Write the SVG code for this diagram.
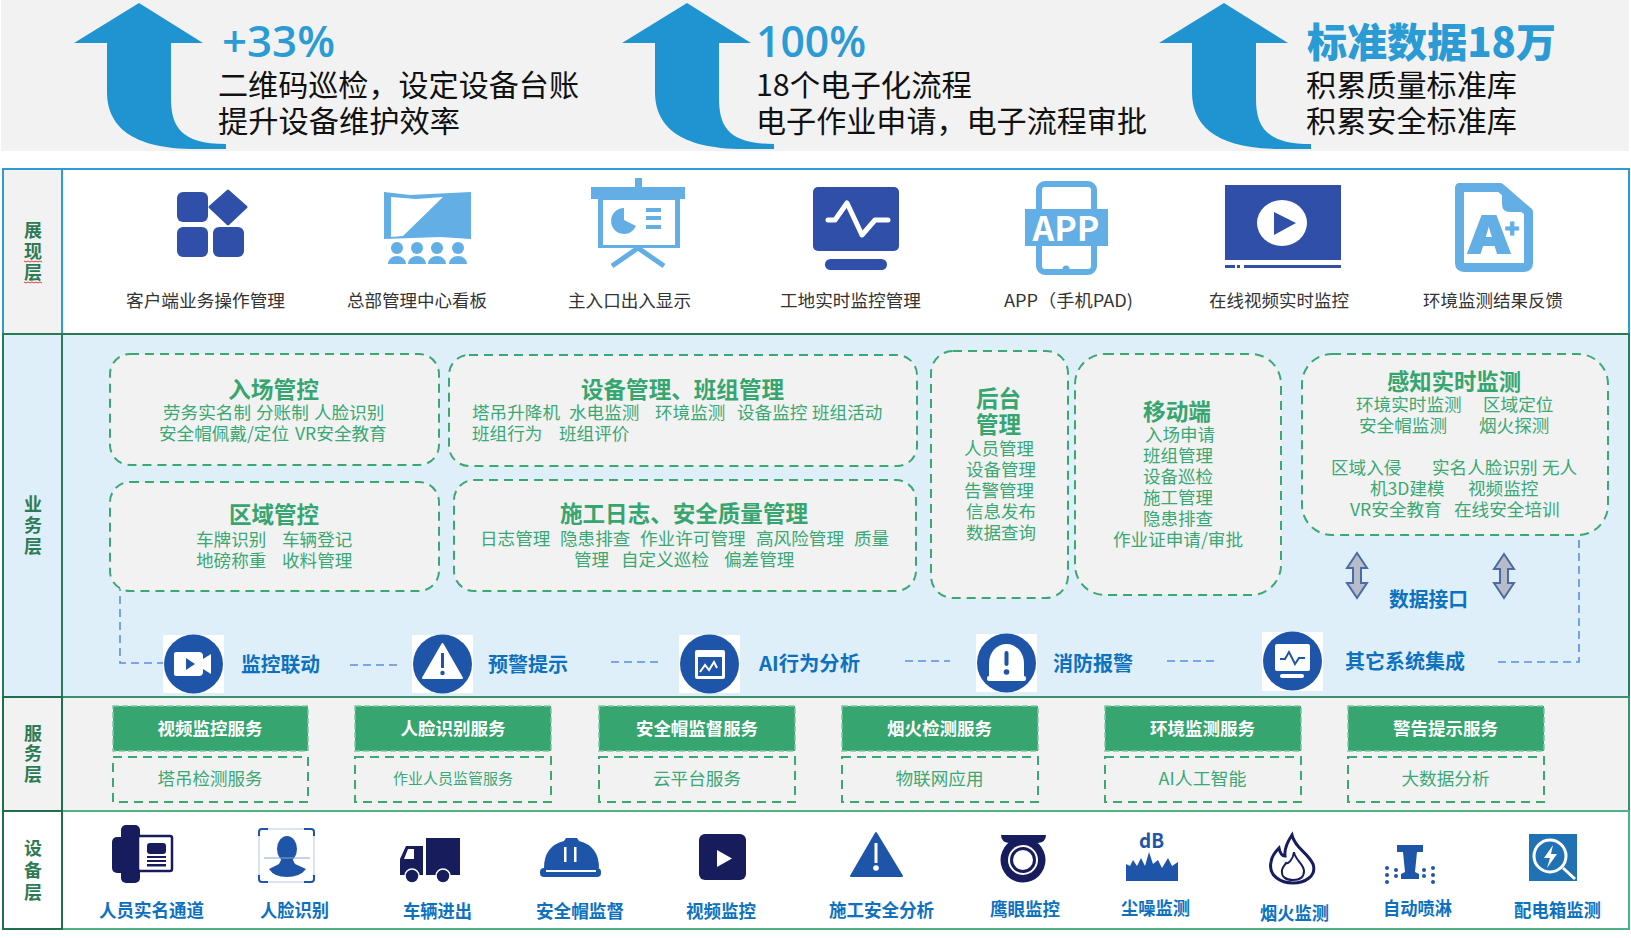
<svg xmlns="http://www.w3.org/2000/svg" width="1631" height="938" viewBox="0 0 1631 938">
<style>
text{font-family:"Noto Sans CJK SC","Liberation Sans",sans-serif}
.big{font-family:"Open Sans","Noto Sans CJK SC",sans-serif;font-size:44px;fill:#2a9bd4;font-weight:600}
.h3{font-size:40px;fill:#2a9bd4;font-weight:900}
.sub{font-size:30px;fill:#111}
.lay{font-size:18px;font-weight:700;fill:#2d7a55;text-anchor:middle}
.lab{font-size:17.5px;fill:#333}
.t{font-size:23px;font-weight:700;fill:#36a56f}
.d{font-size:17.6px;fill:#3aa874}
.b{font-size:20px;font-weight:700;fill:#0d71bf}
.dv{font-size:18px;font-weight:700;fill:#0d71bf}
.w{font-size:17.5px;font-weight:700;fill:#fff;text-anchor:middle}
.g{font-size:17.5px;fill:#3aa874;text-anchor:middle}
.box{fill:#f2f2f2;stroke:#3ba874;stroke-width:2;stroke-dasharray:9 6}
.sf{fill:#36a56f;stroke:#7cc9a2;stroke-width:1.5;stroke-dasharray:6 3}
.so{fill:none;stroke:#3ba874;stroke-width:2;stroke-dasharray:9 6}
.dk{fill:#304fa8}.lt{fill:#62aee5}.nv{fill:#161c5c}.bl{fill:#1f55a8}.wh{fill:#fff}
.con{fill:none;stroke:#5b8fe0;stroke-width:1.6;stroke-dasharray:8 5}
.dbl{fill:#b8bcc8;stroke:#4a6aa8;stroke-width:2}
</style>
<defs>
<path id="up" d="M139 3L203 43H171V98C171 126 180 144 226 144V149H196C130 149 107 125 107 92V43H74Z" fill="#2094d0"/>
</defs>

<rect x="1" y="0" width="1628" height="151" fill="#f2f2f2"/>

<g id="kpi1"><use href="#up"/>
<text class="big" x="222" y="57" textLength="113" lengthAdjust="spacingAndGlyphs">+33%</text>
<text class="sub" x="218" y="96" textLength="361" lengthAdjust="spacingAndGlyphs">二维码巡检，设定设备台账</text>
<text class="sub" x="218" y="132" textLength="242" lengthAdjust="spacingAndGlyphs">提升设备维护效率</text></g>
<g id="kpi2"><use href="#up" x="548"/>
<text class="big" x="756" y="57" textLength="110" lengthAdjust="spacingAndGlyphs">100%</text>
<text class="sub" x="756" y="96" textLength="216" lengthAdjust="spacingAndGlyphs">18个电子化流程</text>
<text class="sub" x="756" y="132" textLength="391" lengthAdjust="spacingAndGlyphs">电子作业申请，电子流程审批</text></g>
<g id="kpi3"><use href="#up" x="1085"/>
<text class="h3" x="1307" y="57" textLength="249" lengthAdjust="spacingAndGlyphs">标准数据18万</text>
<text class="sub" x="1306" y="96" textLength="211" lengthAdjust="spacingAndGlyphs">积累质量标准库</text>
<text class="sub" x="1306" y="132" textLength="211" lengthAdjust="spacingAndGlyphs">积累安全标准库</text></g>

<g id="layers">
<rect x="62" y="169" width="1567" height="165" fill="#fff" stroke="#2e9bd6" stroke-width="2"/>
<rect x="3" y="169" width="59" height="165" fill="#f2f2f2" stroke="#2e9bd6" stroke-width="2"/>
<rect x="62" y="334" width="1567" height="363" fill="#deeffa" stroke="#2a7a5a" stroke-width="2"/>
<rect x="3" y="334" width="59" height="363" fill="#deeffa" stroke="#2a7a5a" stroke-width="2"/>
<rect x="62" y="697" width="1567" height="114" fill="#f2f2f2" stroke="#3f8f6c" stroke-width="2"/>
<rect x="3" y="697" width="59" height="114" fill="#f2f2f2" stroke="#1f6e4c" stroke-width="2"/>
<rect x="62" y="811" width="1567" height="118" fill="#fff" stroke="#4db385" stroke-width="2"/>
<rect x="3" y="811" width="59" height="118" fill="#fff" stroke="#1f6e4c" stroke-width="2"/>
<text class="lay" x="33" y="237">展</text><text class="lay" x="33" y="258">现</text><text class="lay" x="33" y="279">层</text>
<path d="M24 261l2 1 2-1 2 1 2-1 2 1 2-1 2 1 2-1 2 1M24 282l2 1 2-1 2 1 2-1 2 1 2-1 2 1 2-1 2 1" fill="none" stroke="#e23b3b" stroke-width="1"/>
<text class="lay" x="33" y="511">业</text><text class="lay" x="33" y="532">务</text><text class="lay" x="33" y="553">层</text>
<text class="lay" x="33" y="740">服</text><text class="lay" x="33" y="760">务</text><text class="lay" x="33" y="781">层</text>
<text class="lay" x="33" y="855">设</text><text class="lay" x="33" y="877">备</text><text class="lay" x="33" y="899">层</text>
</g>

<g id="connectors">
<path class="con" d="M120 583V663H163"/>
<path class="con" d="M350 665H397"/>
<path class="con" d="M611 662H658"/>
<path class="con" d="M905 661H950"/>
<path class="con" d="M1167 661H1215"/>
<path class="con" d="M1579 527V662H1498"/>
<path class="dbl" d="M1357 553L1367 568H1361V583H1367L1357 598L1347 583H1353V568H1347Z"/>
<path class="dbl" d="M1504 554L1514 569H1508V583H1514L1504 598L1494 583H1500V569H1494Z"/>
</g>

<!-- presentation layer -->
<g id="show1">
<rect class="dk" x="177" y="192" width="31" height="30" rx="6"/><rect class="dk" x="177" y="227" width="31" height="30" rx="6"/><rect class="dk" x="213" y="227" width="31" height="30" rx="6"/>
<path class="dk" d="M228 191L246 207L228 224L210 207Z" stroke="#304fa8" stroke-width="3" stroke-linejoin="round"/>
<text class="lab" x="126" y="307" textLength="159" lengthAdjust="spacingAndGlyphs">客户端业务操作管理</text></g>
<g id="show2">
<path class="lt" d="M384 192L410 195L471 192V239L440 237L384 239Z"/><path class="wh" d="M391 197L416 199L443 197L403 236L391 237Z"/>
<g class="lt"><circle cx="397" cy="248" r="6"/><circle cx="417" cy="248" r="6"/><circle cx="437" cy="248" r="6"/><circle cx="458" cy="248" r="6"/>
<path d="M388 264a9 8 0 0 1 18 0ZM408 264a9 8 0 0 1 18 0ZM428 264a9 8 0 0 1 18 0ZM449 264a9 8 0 0 1 18 0Z"/></g>
<text class="lab" x="347" y="307" textLength="140" lengthAdjust="spacingAndGlyphs">总部管理中心看板</text></g>
<g id="show3">
<rect class="lt" x="635" y="178" width="7" height="10"/><rect class="lt" x="591" y="187" width="94" height="12"/><rect class="lt" x="598" y="199" width="82" height="49"/><rect class="wh" x="603" y="200" width="72" height="45"/>
<path class="lt" d="M624 208A13 13 0 1 0 636 226L624 220Z"/><path class="lt" d="M627 219V209A13 13 0 0 1 637 220Z" fill-opacity="0"/>
<rect class="lt" x="646" y="208" width="15" height="4"/><rect class="lt" x="646" y="216" width="15" height="4"/><rect class="lt" x="646" y="225" width="15" height="4"/>
<path d="M638 248L612 266M638 248L664 266" stroke="#62aee5" stroke-width="5" fill="none"/>
<text class="lab" x="568" y="307" textLength="123" lengthAdjust="spacingAndGlyphs">主入口出入显示</text></g>
<g id="show4">
<rect class="dk" x="813" y="187" width="86" height="64" rx="5"/><path d="M828 220L835 220L847 203L862 235L875 220H888" fill="none" stroke="#fff" stroke-width="5" stroke-linejoin="round" stroke-linecap="round"/>
<rect class="dk" x="825" y="259" width="62" height="11" rx="5.5"/>
<text class="lab" x="780" y="307" textLength="141" lengthAdjust="spacingAndGlyphs">工地实时监控管理</text></g>
<g id="show5">
<rect x="1039" y="184" width="55" height="88" rx="6" fill="#fff" stroke="#62aee5" stroke-width="6"/><rect class="lt" x="1025" y="209" width="83" height="37"/>
<text x="1066" y="241" text-anchor="middle" font-size="33" font-weight="700" fill="#fff" textLength="67" lengthAdjust="spacingAndGlyphs">APP</text>
<circle class="lt" cx="1066" cy="269" r="3.5"/>
<text class="lab" x="1004" y="307" textLength="129" lengthAdjust="spacingAndGlyphs">APP（手机PAD)</text></g>
<g id="show6">
<rect class="dk" x="1225" y="185" width="116" height="75"/><ellipse class="wh" cx="1282" cy="223" rx="25" ry="23"/><path class="dk" d="M1274 212V235L1296 223Z"/>
<rect class="dk" x="1225" y="265" width="10" height="3"/><rect class="dk" x="1237" y="265" width="3" height="3"/><rect class="dk" x="1244" y="265" width="97" height="3"/>
<text class="lab" x="1209" y="307" textLength="140" lengthAdjust="spacingAndGlyphs">在线视频实时监控</text></g>
<g id="show7">
<path d="M1459.500 187.500H1500L1528.500 212V263Q1528.500 267.500 1524 267.500H1464Q1459.500 267.500 1459.500 263Z" fill="#fff" stroke="#62aee5" stroke-width="9" stroke-linejoin="round"/>
<path class="lt" d="M1502 184L1533 212H1510Q1502 212 1502 204Z"/>
<text x="1489" y="253" text-anchor="middle" font-size="50" font-weight="900" fill="#62aee5" stroke="#62aee5" stroke-width="2" textLength="40" lengthAdjust="spacingAndGlyphs">A</text>
<text x="1512" y="238" text-anchor="middle" font-size="24" font-weight="900" fill="#62aee5" stroke="#62aee5" stroke-width="1">+</text>
<text class="lab" x="1423" y="307" textLength="140" lengthAdjust="spacingAndGlyphs">环境监测结果反馈</text></g>

<!-- business layer -->
<g id="biz1"><rect class="box" x="110" y="354" width="329" height="111" rx="20"/>
<text class="t" x="228" y="398" textLength="91" lengthAdjust="spacingAndGlyphs">入场管控</text>
<text class="d" y="419"><tspan x="163">劳务实名制</tspan><tspan x="256">分账制</tspan><tspan x="314">人脸识别</tspan></text>
<text class="d" y="440"><tspan x="159">安全帽佩戴/定位</tspan><tspan x="295">VR安全教育</tspan></text></g>
<g id="biz2"><rect class="box" x="449" y="355" width="468" height="111" rx="20"/>
<text class="t" x="581" y="398" textLength="203" lengthAdjust="spacingAndGlyphs">设备管理、班组管理</text>
<text class="d" y="419"><tspan x="472">塔吊升降机</tspan><tspan x="569">水电监测</tspan><tspan x="655">环境监测</tspan><tspan x="737">设备监控</tspan><tspan x="812">班组活动</tspan></text>
<text class="d" y="440"><tspan x="472">班组行为</tspan><tspan x="559">班组评价</tspan></text></g>
<g id="biz3"><rect class="box" x="110" y="482" width="329" height="109" rx="20"/>
<text class="t" x="229" y="523" textLength="90" lengthAdjust="spacingAndGlyphs">区域管控</text>
<text class="d" y="546"><tspan x="196">车牌识别</tspan><tspan x="282">车辆登记</tspan></text>
<text class="d" y="567"><tspan x="196">地磅称重</tspan><tspan x="282">收料管理</tspan></text></g>
<g id="biz4"><rect class="box" x="454" y="480" width="462" height="111" rx="20"/>
<text class="t" x="560" y="522" textLength="248" lengthAdjust="spacingAndGlyphs">施工日志、安全质量管理</text>
<text class="d" y="545"><tspan x="480">日志管理</tspan><tspan x="560">隐患排查</tspan><tspan x="640">作业许可管理</tspan><tspan x="756">高风险管理</tspan><tspan x="854">质量</tspan></text>
<text class="d" y="566"><tspan x="574">管理</tspan><tspan x="621">自定义巡检</tspan><tspan x="724">偏差管理</tspan></text></g>
<g id="biz5"><rect class="box" x="931" y="351" width="137" height="247" rx="22"/>
<text class="t" x="976" y="407" textLength="45" lengthAdjust="spacingAndGlyphs">后台</text>
<text class="t" x="976" y="433" textLength="45" lengthAdjust="spacingAndGlyphs">管理</text>
<text class="d" x="964" y="455" textLength="70" lengthAdjust="spacingAndGlyphs">人员管理</text>
<text class="d" x="966" y="476" textLength="70" lengthAdjust="spacingAndGlyphs">设备管理</text>
<text class="d" x="964" y="497" textLength="70" lengthAdjust="spacingAndGlyphs">告警管理</text>
<text class="d" x="966" y="518" textLength="70" lengthAdjust="spacingAndGlyphs">信息发布</text>
<text class="d" x="966" y="539" textLength="70" lengthAdjust="spacingAndGlyphs">数据查询</text></g>
<g id="biz6"><rect class="box" x="1075" y="354" width="206" height="241" rx="30"/>
<text class="t" x="1143" y="420" textLength="68" lengthAdjust="spacingAndGlyphs">移动端</text>
<text class="d" x="1145" y="441" textLength="70" lengthAdjust="spacingAndGlyphs">入场申请</text>
<text class="d" x="1143" y="462" textLength="70" lengthAdjust="spacingAndGlyphs">班组管理</text>
<text class="d" x="1143" y="483" textLength="70" lengthAdjust="spacingAndGlyphs">设备巡检</text>
<text class="d" x="1143" y="504" textLength="70" lengthAdjust="spacingAndGlyphs">施工管理</text>
<text class="d" x="1143" y="525" textLength="70" lengthAdjust="spacingAndGlyphs">隐患排查</text>
<text class="d" x="1113" y="546" textLength="130" lengthAdjust="spacingAndGlyphs">作业证申请/审批</text></g>
<g id="biz7"><rect class="box" x="1302" y="354" width="306" height="181" rx="30"/>
<text class="t" x="1387" y="390" textLength="134" lengthAdjust="spacingAndGlyphs">感知实时监测</text>
<text class="d" y="411"><tspan x="1356">环境实时监测</tspan><tspan x="1483">区域定位</tspan></text>
<text class="d" y="432"><tspan x="1359">安全帽监测</tspan><tspan x="1479">烟火探测</tspan></text>
<text class="d" y="474"><tspan x="1331">区域入侵</tspan><tspan x="1432">实名人脸识别</tspan><tspan x="1542">无人</tspan></text>
<text class="d" y="495"><tspan x="1370">机3D建模</tspan><tspan x="1468">视频监控</tspan></text>
<text class="d" y="516"><tspan x="1350">VR安全教育</tspan><tspan x="1454">在线安全培训</tspan></text></g>
<text class="b" x="1389" y="607" textLength="79" lengthAdjust="spacingAndGlyphs">数据接口</text>

<g id="link1"><rect class="wh" x="163" y="635" width="61" height="58"/><circle class="bl" cx="193.500" cy="664" r="29.500"/>
<path class="wh" d="M176 652H199Q203 652 203 656V659L211 654V674L203 669V672Q203 676 199 676H176Q174 676 174 674V654Q174 652 176 652Z"/><path class="bl" d="M186 658V670L195 664Z"/>
<text class="b" x="241" y="672" textLength="79" lengthAdjust="spacingAndGlyphs">监控联动</text></g>
<g id="link2"><rect class="wh" x="412" y="635" width="61" height="58"/><circle class="bl" cx="442.500" cy="664" r="29.500"/>
<path class="wh" d="M442.500 644L462 678H423Z" stroke="#fff" stroke-width="2" stroke-linejoin="round"/><rect class="bl" x="441" y="653" width="3" height="15"/><circle class="bl" cx="442.500" cy="673" r="2.200"/>
<text class="b" x="488" y="672" textLength="80" lengthAdjust="spacingAndGlyphs">预警提示</text></g>
<g id="link3"><rect class="wh" x="679" y="635" width="61" height="58"/><circle class="bl" cx="709.500" cy="664" r="29.500"/>
<rect class="wh" x="695" y="650" width="30" height="29" rx="2"/><rect class="bl" x="698" y="657" width="24" height="19"/>
<path d="M700 672L705 665L709 670L714 662L717 668" fill="none" stroke="#fff" stroke-width="2"/>
<text class="b" x="759" y="671" textLength="101" lengthAdjust="spacingAndGlyphs">AI行为分析</text></g>
<g id="link4"><rect class="wh" x="976" y="634" width="61" height="58"/><circle class="bl" cx="1006.500" cy="663" r="29.500"/>
<path class="wh" d="M989 678V663A17.500 19 0 0 1 1024 663V678Z"/><rect class="wh" x="987" y="676" width="39" height="5" rx="2"/>
<rect class="bl" x="1004.500" y="651" width="4" height="15" rx="2"/><circle class="bl" cx="1006.500" cy="672" r="2.800"/>
<text class="b" x="1053" y="671" textLength="80" lengthAdjust="spacingAndGlyphs">消防报警</text></g>
<g id="link5"><rect class="wh" x="1262" y="632" width="61" height="59"/><circle class="bl" cx="1292.500" cy="661" r="29.500"/>
<rect class="wh" x="1275" y="644" width="35" height="27" rx="2"/><rect class="wh" x="1280" y="674" width="24" height="4" rx="2"/>
<path d="M1280 659H1285L1289 652L1295 664L1299 658H1305" fill="none" stroke="#1f55a8" stroke-width="2"/>
<text class="b" x="1345" y="669" textLength="120" lengthAdjust="spacingAndGlyphs">其它系统集成</text></g>

<!-- service layer -->
<g id="svc1"><rect class="sf" x="113" y="706" width="195" height="45"/><text class="w" x="210" y="735" textLength="105" lengthAdjust="spacingAndGlyphs">视频监控服务</text>
<rect class="so" x="113" y="757" width="195" height="45"/><text class="g" x="210" y="785" textLength="105" lengthAdjust="spacingAndGlyphs">塔吊检测服务</text></g>
<g id="svc2"><rect class="sf" x="355" y="706" width="196" height="45"/><text class="w" x="453" y="735" textLength="105" lengthAdjust="spacingAndGlyphs">人脸识别服务</text>
<rect class="so" x="355" y="757" width="196" height="45"/><text class="g" x="453" y="784" style="font-size:15px" textLength="120" lengthAdjust="spacingAndGlyphs">作业人员监管服务</text></g>
<g id="svc3"><rect class="sf" x="599" y="706" width="196" height="45"/><text class="w" x="697" y="735" textLength="122" lengthAdjust="spacingAndGlyphs">安全帽监督服务</text>
<rect class="so" x="599" y="757" width="196" height="45"/><text class="g" x="697" y="785" textLength="88" lengthAdjust="spacingAndGlyphs">云平台服务</text></g>
<g id="svc4"><rect class="sf" x="842" y="706" width="196" height="45"/><text class="w" x="939.500" y="735" textLength="105" lengthAdjust="spacingAndGlyphs">烟火检测服务</text>
<rect class="so" x="842" y="757" width="196" height="45"/><text class="g" x="939.500" y="785" textLength="88" lengthAdjust="spacingAndGlyphs">物联网应用</text></g>
<g id="svc5"><rect class="sf" x="1105" y="706" width="196" height="45"/><text class="w" x="1202.500" y="735" textLength="105" lengthAdjust="spacingAndGlyphs">环境监测服务</text>
<rect class="so" x="1105" y="757" width="196" height="45"/><text class="g" x="1202.500" y="785" textLength="88" lengthAdjust="spacingAndGlyphs">AI人工智能</text></g>
<g id="svc6"><rect class="sf" x="1348" y="706" width="196" height="45"/><text class="w" x="1445.500" y="735" textLength="105" lengthAdjust="spacingAndGlyphs">警告提示服务</text>
<rect class="so" x="1348" y="757" width="196" height="45"/><text class="g" x="1445.500" y="785" textLength="88" lengthAdjust="spacingAndGlyphs">大数据分析</text></g>

<!-- device layer -->
<g id="dev1"><rect class="nv" x="121" y="825" width="19" height="58" rx="5"/><rect class="nv" x="112" y="837" width="14" height="36" rx="5"/>
<rect x="138" y="836" width="34" height="35" rx="2" fill="#fff" stroke="#161c5c" stroke-width="2.500"/>
<rect class="nv" x="147" y="843" width="19" height="11" rx="3"/><rect class="nv" x="147" y="856" width="19" height="2"/><rect class="nv" x="147" y="860" width="19" height="2"/><rect class="nv" x="147" y="864" width="19" height="2.500"/>
<text class="dv" x="99" y="917" textLength="105" lengthAdjust="spacingAndGlyphs">人员实名通道</text></g>
<g id="dev2"><rect x="259" y="829" width="55" height="53" rx="3" fill="#fff" stroke="#b8c8e8" stroke-width="1"/>
<path d="M259 836V832Q259 829 262 829H268M304 829H311Q314 829 314 832V836M314 875V879Q314 882 311 882H304M268 882H262Q259 882 259 879V875" fill="none" stroke="#1f55a8" stroke-width="2"/>
<ellipse class="bl" cx="287" cy="849" rx="10" ry="13"/><path class="bl" d="M282 858H292L295 864L306 869Q300 877 287 877Q274 877 269 869L279 864Z"/>
<path d="M264 858H310" stroke="#8fa6cf" stroke-width="1"/>
<text class="dv" x="260" y="917" textLength="69" lengthAdjust="spacingAndGlyphs">人脸识别</text></g>
<g id="dev3"><rect class="nv" x="426" y="838" width="34" height="37"/><path class="nv" d="M400 859L406 846H423V875H400Z"/><path class="wh" d="M404 859L408 849H414V859Z"/>
<circle class="nv" cx="412" cy="876" r="7" stroke="#fff" stroke-width="1.500"/><circle class="nv" cx="443" cy="876" r="7" stroke="#fff" stroke-width="1.500"/>
<text class="dv" x="403" y="918" textLength="69" lengthAdjust="spacingAndGlyphs">车辆进出</text></g>
<g id="dev4"><path class="bl" d="M544 868Q544 846 564 841L566 838H577L579 841Q599 846 599 868Z"/><rect class="bl" x="540" y="868" width="61" height="9" rx="4"/><rect class="wh" x="546" y="870" width="50" height="2"/>
<rect class="wh" x="564" y="847" width="2.500" height="15"/><rect class="wh" x="574" y="847" width="2.500" height="15"/>
<text class="dv" x="536" y="918" textLength="88" lengthAdjust="spacingAndGlyphs">安全帽监督</text></g>
<g id="dev5"><rect class="nv" x="699" y="834" width="47" height="46" rx="6"/><path class="wh" d="M717 850V867L732 858.500Z"/>
<text class="dv" x="686" y="918" textLength="70" lengthAdjust="spacingAndGlyphs">视频监控</text></g>
<g id="dev6"><path class="bl" d="M876 833L902 876H851Z" stroke="#1f55a8" stroke-width="2" stroke-linejoin="round"/><rect class="wh" x="874.500" y="843" width="3" height="20"/><circle class="wh" cx="876" cy="868" r="2.800"/>
<text class="dv" x="829" y="917" textLength="105" lengthAdjust="spacingAndGlyphs">施工安全分析</text></g>
<g id="dev7"><path class="nv" d="M1001 835H1046Q1046 842 1038 843H1009Q1001 842 1001 835Z"/><circle class="nv" cx="1023" cy="860" r="22.500"/><circle class="wh" cx="1023" cy="860" r="15"/><circle class="nv" cx="1023" cy="860" r="13"/><circle class="wh" cx="1023" cy="860" r="10"/>
<text class="dv" x="990" y="916" textLength="70" lengthAdjust="spacingAndGlyphs">鹰眼监控</text></g>
<g id="dev8"><text x="1139" y="848" font-size="20" font-weight="700" fill="#1f55a8" textLength="25" lengthAdjust="spacingAndGlyphs">dB</text>
<path class="bl" d="M1126 881V864L1130 866L1133 860L1137 866L1141 858L1145 866L1149 852L1153 864L1158 860L1162 868L1168 858L1172 866L1178 862V881Z"/>
<text class="dv" x="1121" y="915" textLength="69" lengthAdjust="spacingAndGlyphs">尘噪监测</text></g>
<g id="dev9"><path d="M1292 835C1295 848 1307 852 1313 864C1317 876 1305 883 1293 883C1281 883 1268 876 1271 862C1272 855 1276 851 1279 848C1280 853 1282 856 1285 856C1284 848 1288 841 1292 835Z" fill="#fff" stroke="#161c5c" stroke-width="3"/>
<path d="M1294 852C1295 860 1304 864 1304 871C1304 878 1299 880 1293 880C1286 880 1281 877 1282 870C1283 866 1285 865 1286 863C1288 864 1293 860 1294 852Z" fill="none" stroke="#161c5c" stroke-width="2"/>
<text class="dv" x="1260" y="920" textLength="69" lengthAdjust="spacingAndGlyphs">烟火监测</text></g>
<g id="dev10"><path class="bl" d="M1397 845H1423V852H1417L1415 872L1419 874V879H1401V874L1405 872L1403 852H1397Z"/>
<g class="bl"><circle cx="1387" cy="868" r="2"/><circle cx="1387" cy="875" r="2"/><circle cx="1387" cy="882" r="2"/><circle cx="1396" cy="870" r="2"/><circle cx="1396" cy="876" r="2"/><circle cx="1424" cy="870" r="2"/><circle cx="1424" cy="876" r="2"/><circle cx="1433" cy="868" r="2"/><circle cx="1433" cy="875" r="2"/><circle cx="1433" cy="882" r="2"/></g>
<text class="dv" x="1383" y="915" textLength="69" lengthAdjust="spacingAndGlyphs">自动喷淋</text></g>
<g id="dev11"><rect x="1529" y="834" width="48" height="47" fill="#2171b5"/><circle cx="1550" cy="856" r="16" fill="none" stroke="#fff" stroke-width="3"/>
<path d="M1563 868L1575 879" stroke="#fff" stroke-width="3"/><path class="wh" d="M1553 845L1544 858H1550L1547 868L1557 854H1551Z"/>
<text class="dv" x="1514" y="917" textLength="87" lengthAdjust="spacingAndGlyphs">配电箱监测</text></g>
</svg>
